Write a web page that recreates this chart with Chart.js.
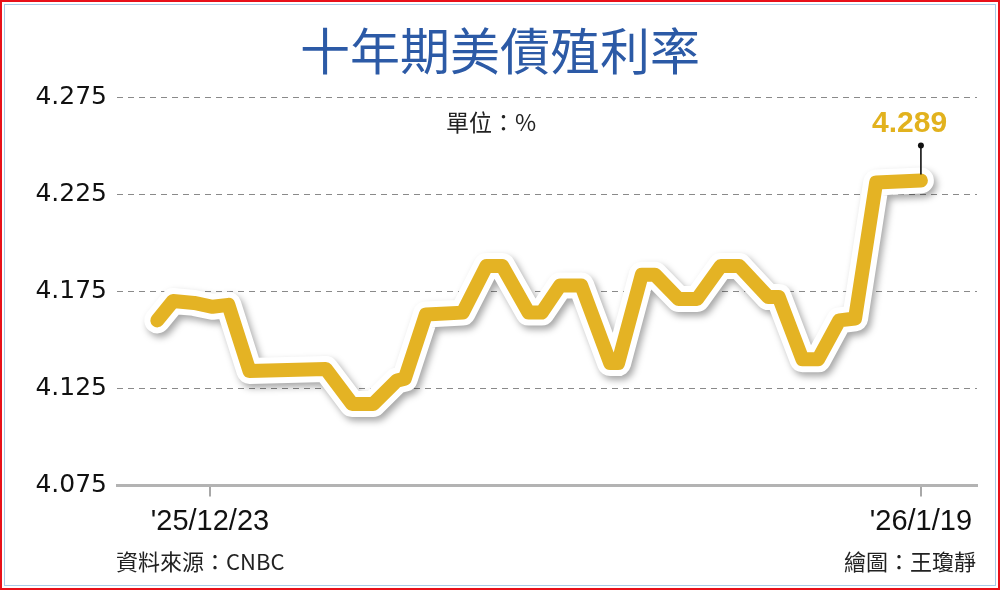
<!DOCTYPE html>
<html>
<head>
<meta charset="utf-8">
<script src="https://cdn.jsdelivr.net/npm/chart.js@4/dist/chart.umd.min.js"></script>
<style>
  html, body { margin: 0; padding: 0; background: #fff; }
  #wrap { position: relative; width: 1000px; height: 590px; overflow: hidden; background: #fff; }
  #c { position: absolute; left: 0; top: 0; }
  .frame-red { position: absolute; left: 0; top: 0; width: 996px; height: 586px; border: 2px solid #e8101a; pointer-events: none; }
  .frame-blue { position: absolute; left: 4px; top: 4px; width: 990px; height: 580px; border: 1px solid #a9cbe8; pointer-events: none; }
  .txt { position: absolute; white-space: nowrap; }
  #title { left: 0; width: 1000px; top: 18px; text-align: center; font-family: "Noto Sans CJK TC", sans-serif; font-weight: 400; font-size: 50px; line-height: 60px; color: #2c5aa6; }
  #unit { left: 446px; top: 106px; font-family: "Noto Sans CJK TC", sans-serif; font-size: 23px; line-height: 30px; color: #222; }
  #last { left: 872px; top: 105px; font-family: "Liberation Sans", Arial, sans-serif; font-weight: bold; font-size: 30px; line-height: 34px; color: #e2b21e; }
  #src { left: 116px; top: 545px; font-family: "Noto Sans CJK TC", sans-serif; font-size: 22px; line-height: 30px; color: #222; }
  #author { right: 24px; top: 545px; font-family: "Noto Sans CJK TC", sans-serif; font-size: 22px; line-height: 30px; color: #222; }
</style>
</head>
<body>
<div id="wrap">
  <canvas id="c" width="1000" height="590"></canvas>
  <div class="txt" id="title">十年期美債殖利率</div>
  <div class="txt" id="unit">單位：%</div>
  <div class="txt" id="last">4.289</div>
  <div class="txt" id="src">資料來源：CNBC</div>
  <div class="txt" id="author">繪圖：王瓊靜</div>
  <div class="frame-red"></div>
  <div class="frame-blue"></div>
</div>
<script>
// Day offsets from 2025/12/23 and 10-year yields (%)
const dayOffsets = [-2.0, -1.4, -0.6, 0.1, 0.7, 1.5, 4.4, 5.4, 6.2, 7.1, 7.4, 8.2, 9.6, 10.5, 11.1, 12.1, 12.6, 13.3, 14.1, 15.2, 15.5, 16.4, 16.9, 17.8, 18.5, 19.4, 20.1, 21.2, 21.6, 22.5, 23.1, 23.9, 24.5, 25.3, 27.0];
const yields = [4.160, 4.170, 4.169, 4.167, 4.168, 4.134, 4.135, 4.117, 4.117, 4.129, 4.130, 4.163, 4.164, 4.188, 4.188, 4.164, 4.164, 4.178, 4.178, 4.138, 4.138, 4.1835, 4.1835, 4.171, 4.171, 4.188, 4.188, 4.172, 4.172, 4.140, 4.140, 4.160, 4.161, 4.231, 4.232];
const xTickDays = [0, 27];
const xTickLabels = ["'25/12/23", "'26/1/19"];
const yTicks = [4.075, 4.125, 4.175, 4.225, 4.275];

const outlinePts = dayOffsets.map((d, i) => ({ x: d, y: yields[i] }));
const linePts = dayOffsets.map((d, i) => ({ x: d, y: yields[i] }));

const lineFx = {
  id: 'lineFx',
  beforeDatasetDraw(chart, args) {
    if (args.index === 0) {
      const ctx = chart.ctx;
      ctx.save();
      ctx.shadowColor = 'rgba(0,0,0,0.35)';
      ctx.shadowBlur = 7;
      ctx.shadowOffsetX = 3;
      ctx.shadowOffsetY = 4;
    }
  },
  afterDatasetDraw(chart, args) {
    if (args.index === 0) chart.ctx.restore();
  },
  afterDatasetsDraw(chart) {
    const meta = chart.getDatasetMeta(1);
    const p = meta.data[meta.data.length - 1];
    const ctx = chart.ctx;
    ctx.save();
    ctx.strokeStyle = '#111';
    ctx.lineWidth = 1.6;
    ctx.beginPath();
    ctx.moveTo(p.x, p.y - 6);
    ctx.lineTo(p.x, p.y - 35);
    ctx.stroke();
    ctx.fillStyle = '#111';
    ctx.beginPath();
    ctx.arc(p.x, p.y - 35, 3, 0, Math.PI * 2);
    ctx.fill();
    ctx.restore();
  }
};

new Chart(document.getElementById('c'), {
  type: 'line',
  data: {
    datasets: [
      { data: outlinePts, order: 2, borderColor: '#ffffff', borderWidth: 26, pointRadius: 0, tension: 0,
        borderJoinStyle: 'round', borderCapStyle: 'round', fill: false },
      { data: linePts, order: 1, borderColor: '#e4b324', borderWidth: 14, pointRadius: 0, tension: 0,
        borderJoinStyle: 'round', borderCapStyle: 'round', fill: false }
    ]
  },
  options: {
    responsive: false,
    animation: false,
    events: [],
    clip: false,
    layout: { padding: { top: 97, right: 23, bottom: 0, left: 0 } },
    plugins: { legend: { display: false }, tooltip: { enabled: false }, title: { display: false } },
    scales: {
      x: {
        type: 'linear',
        min: -3.53,
        max: 29.13,
        afterBuildTicks: s => { s.ticks = xTickDays.map(v => ({ value: v })); },
        afterFit: s => { s.height = 104.5; },
        ticks: {
          autoSkip: false,
          maxRotation: 0,
          padding: 8,
          color: '#111',
          font: { family: '"Liberation Sans", Arial, sans-serif', size: 29 },
          callback: v => xTickLabels[xTickDays.indexOf(v)]
        },
        grid: { drawOnChartArea: false, drawTicks: true, tickLength: 11, color: '#a8a8a8', lineWidth: 2 },
        border: { display: true, color: '#b3b3b3', width: 3 }
      },
      y: {
        type: 'linear',
        min: 4.075,
        max: 4.275,
        afterBuildTicks: s => { s.ticks = yTicks.map(v => ({ value: v })); },
        afterFit: s => { s.width = 117; },
        ticks: {
          padding: 10,
          color: '#111',
          font: { family: '"DejaVu Sans", sans-serif', size: 25 },
          callback: v => Number(v).toFixed(3)
        },
        grid: {
          drawTicks: false,
          color: c => (c.index === 0 ? 'rgba(0,0,0,0)' : '#8a8a8a'),
          lineWidth: 1
        },
        border: { display: false, dash: [6, 5] }
      }
    }
  },
  plugins: [lineFx]
});
</script>
</body>
</html>
